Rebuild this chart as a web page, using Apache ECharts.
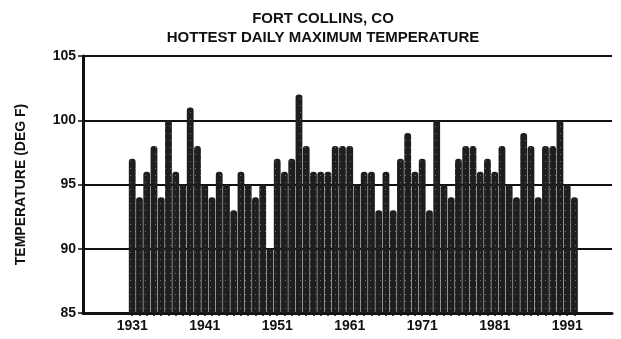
<!DOCTYPE html>
<html>
<head>
<meta charset="utf-8">
<script src="https://cdn.jsdelivr.net/npm/echarts@6/dist/echarts.min.js"></script>
<style>
html,body{margin:0;padding:0;background:#fff;}
#c{width:621px;height:339px;}
</style>
</head>
<body>
<div id="c"></div>
<script>
// Years 1931..1992
var years = [1931,1932,1933,1934,1935,1936,1937,1938,1939,1940,
             1941,1942,1943,1944,1945,1946,1947,1948,1949,1950,
             1951,1952,1953,1954,1955,1956,1957,1958,1959,1960,
             1961,1962,1963,1964,1965,1966,1967,1968,1969,1970,
             1971,1972,1973,1974,1975,1976,1977,1978,1979,1980,
             1981,1982,1983,1984,1985,1986,1987,1988,1989,1990,
             1991,1992];
// Hottest daily maximum temperature (deg F)
var temps = [97,94,96,98,94,100,96,95,101,98,
             95,94,96,95,93,96,95,94,95,90,
             97,96,97,102,98,96,96,96,98,98,
             98,95,96,96,93,96,93,97,99,96,
             97,93,100,95,94,97,98,98,96,97,
             96,98,95,94,99,98,94,98,98,100,
             95,94];
var labelYears = [1931,1941,1951,1961,1971,1981,1991];

var data = years.map(function(y,i){ return [y, temps[i]]; });

var chart = echarts.init(document.getElementById('c'), null, {renderer:'canvas'});
var font = '"Liberation Sans", Arial, Helvetica, sans-serif';
chart.setOption({
  animation:false,
  backgroundColor:'#fff',
  title:{
    text:'FORT COLLINS, CO\nHOTTEST DAILY MAXIMUM TEMPERATURE',
    left:318, top:4, textAlign:'center',
    textStyle:{fontFamily:font, fontWeight:'bold', fontSize:15, color:'#111', lineHeight:19}
  },
  grid:{left:83, right:9, top:56, bottom:26},
  xAxis:{
    type:'value', min:1924.21, max:1997.18,
    axisLine:{show:true, lineStyle:{color:'#111', width:3}},
    axisTick:{show:true, customValues:years, length:3, lineStyle:{color:'#111', width:1.5}},
    axisLabel:{customValues:labelYears, fontFamily:font, fontWeight:'bold', fontSize:14, color:'#111', margin:6,
      formatter:function(v){return String(v);}},
    splitLine:{show:false}
  },
  yAxis:{
    type:'value', min:85, max:105, interval:5,
    name:'TEMPERATURE (DEG F)', nameLocation:'middle', nameGap:55, nameRotate:90,
    nameTextStyle:{fontFamily:font, fontWeight:'bold', fontSize:14, color:'#111'},
    axisLine:{show:true, lineStyle:{color:'#111', width:3}},
    axisTick:{show:true, length:5, lineStyle:{color:'#111', width:1.5}},
    axisLabel:{fontFamily:font, fontWeight:'bold', fontSize:14, color:'#111', margin:7},
    splitLine:{show:true, lineStyle:{color:'#111', width:2.2}}
  },
  series:[{
    type:'bar',
    data:data,
    barWidth:6.8,
    itemStyle:{
      color:'#1e1e1e',
      borderRadius:[3,3,0,0],
      decal:{symbol:'rect', symbolSize:1, color:'rgba(255,255,255,0.35)', dashArrayX:[1,4], dashArrayY:[1,6], rotation:0}
    }
  }]
});
</script>
</body>
</html>
